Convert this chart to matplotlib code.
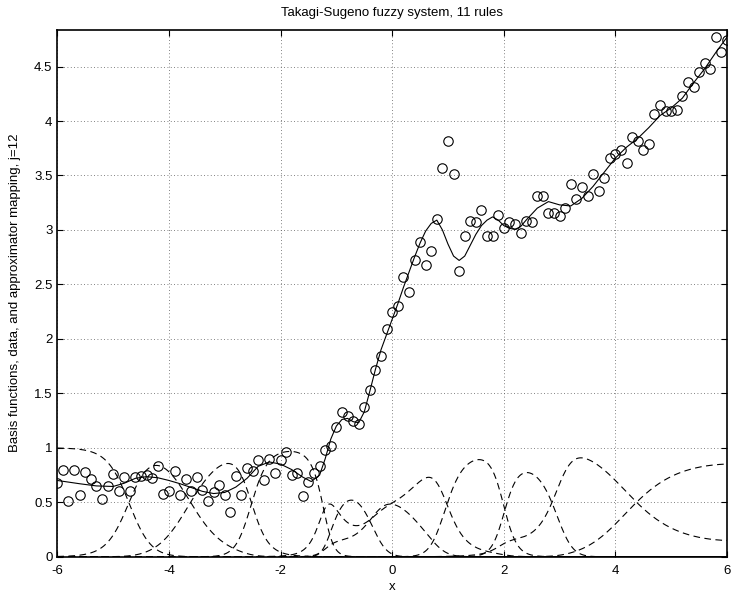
import numpy as np
import matplotlib
matplotlib.use("Agg")
import matplotlib.pyplot as plt

# -------------------------------------------------------
# Datos
# -------------------------------------------------------
x_datos = np.round(np.arange(-6.0, 6.0001, 0.1), 1)
y_datos = [
    0.68, 0.80, 0.51, 0.80, 0.57, 0.78, 0.71, 0.65, 0.53, 0.65,   # -6.0 .. -5.1
    0.76, 0.60, 0.73, 0.60, 0.73, 0.74, 0.75, 0.72, 0.83, 0.58,   # -5.0 .. -4.1
    0.60, 0.79, 0.57, 0.71, 0.60, 0.73, 0.61, 0.51, 0.59, 0.66,   # -4.0 .. -3.1
    0.57, 0.41, 0.74, 0.57, 0.81, 0.79, 0.89, 0.70, 0.90, 0.77,   # -3.0 .. -2.1
    0.89, 0.96, 0.75, 0.77, 0.56, 0.69, 0.77, 0.83, 0.98, 1.02,   # -2.0 .. -1.1
    1.19, 1.33, 1.29, 1.25, 1.22, 1.37, 1.53, 1.71, 1.84, 2.09,   # -1.0 .. -0.1
    2.25, 2.30, 2.57, 2.43, 2.72, 2.89, 2.68, 2.81, 3.10, 3.57,   #  0.0 ..  0.9
    3.82, 3.51, 2.62, 2.94, 3.08, 3.07, 3.18, 2.94, 2.94, 3.14,   #  1.0 ..  1.9
    3.02, 3.07, 3.05, 2.97, 3.08, 3.07, 3.31, 3.31, 3.16, 3.16,   #  2.0 ..  2.9
    3.13, 3.20, 3.42, 3.28, 3.39, 3.31, 3.51, 3.36, 3.48, 3.66,   #  3.0 ..  3.9
    3.70, 3.73, 3.61, 3.85, 3.82, 3.73, 3.79, 4.06, 4.15, 4.09,   #  4.0 ..  4.9
    4.09, 4.10, 4.23, 4.36, 4.31, 4.45, 4.53, 4.48, 4.77, 4.63,   #  5.0 ..  5.9
    4.74,                                                         #  6.0
]

# salida del aproximador (linea continua)
x_mapa = [-6.0, -5.6, -5.3, -5.0, -4.8, -4.6, -4.4, -4.2, -4.0, -3.8,
          -3.6, -3.4, -3.2, -3.0, -2.8, -2.6, -2.4, -2.2, -2.0, -1.8,
          -1.6, -1.45, -1.3, -1.2, -1.1, -1.0, -0.9, -0.8, -0.7, -0.6,
          -0.5, -0.4, -0.3, -0.2, -0.1, 0.0, 0.1, 0.2, 0.3, 0.4,
          0.5, 0.6, 0.7, 0.8, 0.9, 1.0, 1.1, 1.2, 1.3, 1.4,
          1.5, 1.6, 1.7, 1.8, 1.9, 2.0, 2.1, 2.2, 2.3, 2.4,
          2.6, 2.8, 3.0, 3.2, 3.4, 3.6, 3.8, 4.0, 4.2, 4.4,
          4.6, 4.8, 5.0, 5.2, 5.4, 5.6, 5.8, 6.0]
y_mapa = [0.70, 0.67, 0.65, 0.645, 0.675, 0.72, 0.735, 0.725, 0.70, 0.67,
          0.635, 0.60, 0.58, 0.59, 0.64, 0.72, 0.83, 0.87, 0.85, 0.80,
          0.73, 0.69, 0.75, 0.90, 1.08, 1.20, 1.26, 1.27, 1.24, 1.23,
          1.33, 1.52, 1.72, 1.90, 2.04, 2.18, 2.32, 2.47, 2.61, 2.75,
          2.88, 2.99, 3.06, 3.09, 3.00, 2.87, 2.76, 2.72, 2.76, 2.86,
          2.96, 3.04, 3.09, 3.12, 3.09, 3.04, 3.015, 3.005, 3.03, 3.09,
          3.20, 3.26, 3.23, 3.22, 3.29, 3.40, 3.53, 3.66, 3.76, 3.84,
          3.94, 4.05, 4.12, 4.21, 4.35, 4.48, 4.63, 4.77]

# funciones base (gaussianas normalizadas): centros y anchos ajustados a la figura
centros = [-5.341, -4.053, -3.206, -1.975, -0.585, -0.098, 0.078, 1.481, 2.497, 3.795, 4.816]
anchos  = [0.491, 0.523, 0.482, 0.381, 0.239, 0.404, 0.658, 0.364, 0.322, 0.823, 0.616]

TITULO = "Takagi-Sugeno fuzzy system, 11 rules"
ETIQ_X = "x"
ETIQ_Y = "Basis functions, data, and approximator mapping, j=12"

# -------------------------------------------------------
# Grafico
# -------------------------------------------------------
plt.rcParams['font.family'] = ['Liberation Sans', 'DejaVu Sans']
plt.rcParams['font.size'] = 9.5
plt.rcParams['axes.unicode_minus'] = False

fig = plt.figure(figsize=(7.36, 5.96), dpi=100)
ax = fig.add_axes([0.0779, 0.0659, 0.9099, 0.8846])

xs = np.linspace(-6, 6, 1201)
act = np.array([np.exp(-0.5 * ((xs - c) / s) ** 2) for c, s in zip(centros, anchos)])
base = act / act.sum(axis=0)
for fila in base:
    ax.plot(xs, fila, color='k', linestyle=(0, (6, 4)), linewidth=0.8)

ax.plot(x_mapa, y_mapa, color='k', linewidth=0.8)
ax.plot(x_datos, y_datos, 'o', markersize=6.8, markerfacecolor='none',
        markeredgecolor='k', markeredgewidth=0.8)

ax.set_xlim(-6, 6)
ax.set_ylim(0, 4.84)
ax.set_xticks([-6, -4, -2, 0, 2, 4, 6])
ax.set_yticks([0, 0.5, 1, 1.5, 2, 2.5, 3, 3.5, 4, 4.5])
ax.set_yticklabels(['0', '0.5', '1', '1.5', '2', '2.5', '3', '3.5', '4', '4.5'])
ax.tick_params(direction='in', length=4, width=0.8, top=True, right=True, labelsize=9.5)
ax.tick_params(axis='x', pad=6)
ax.grid(True, color='0.35', linestyle=(0, (1, 3)), linewidth=0.6)
for lado in ax.spines.values():
    lado.set_linewidth(1.2)

ax.set_title(TITULO, fontsize=9.5, pad=10)
ax.set_xlabel(ETIQ_X, fontsize=9.5, labelpad=3)
ax.set_ylabel(ETIQ_Y, fontsize=9.5, labelpad=9)

fig.savefig("out.png", dpi=100)
plt.close(fig)
